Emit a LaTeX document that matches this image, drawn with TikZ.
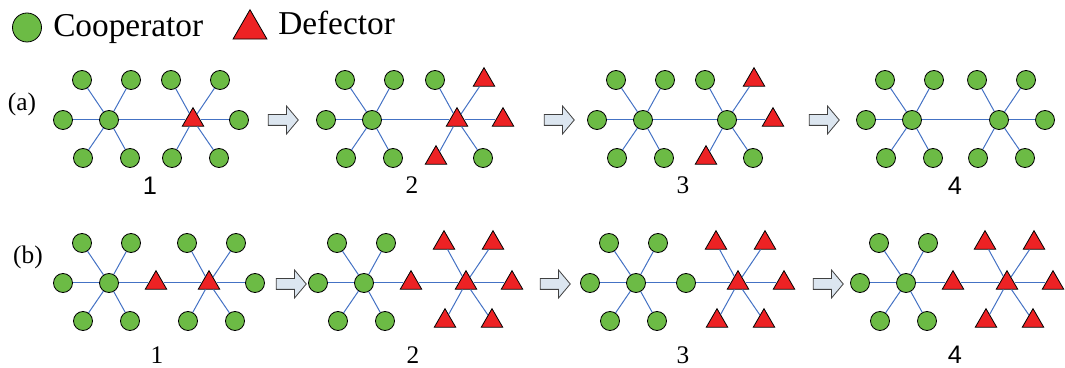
\documentclass[tikz,border=0pt]{standalone}
\usepackage{fontspec}
\setmainfont{Liberation Serif}
\setsansfont{Liberation Sans}
\usetikzlibrary{shapes.geometric,shapes.arrows}

\definecolor{coopgreen}{RGB}{108,187,69}
\definecolor{defred}{RGB}{237,34,36}
\definecolor{linkblue}{RGB}{68,114,196}
\definecolor{flowfill}{RGB}{220,230,240}

\tikzset{
  coop/.style={circle, draw=black, fill=coopgreen, line width=0.6pt, minimum size=14.25pt, inner sep=0pt},
  defe/.style={regular polygon, regular polygon sides=3, draw=black, fill=defred, line width=0.6pt, minimum size=18.5pt, inner sep=0pt},
  link/.style={linkblue, line width=0.75pt},
  flow/.style={single arrow, draw=black!75, fill=flowfill, line width=0.6pt, minimum height=22.5pt,
    inner sep=3.75pt, single arrow head extend=6.4pt, single arrow tip angle=100},
  stagelbl/.style={font=\fontsize{19}{22}\selectfont, inner sep=0pt},
  keytext/.style={font=\fontsize{25}{30}\selectfont, inner sep=0pt, anchor=base west}
}

% one hub with its five leaves: name, x, y, hub style, side (-1 left, 1 right), leaf styles
% leaf order: top-outer, top-inner, outer, bottom-outer, bottom-inner
\newcommand{\hubstar}[6]{%
  \node[#4] (#1) at (#2,#3) {};
  \edef\leaflist{#6}%
  \foreach \t [count=\k] in \leaflist {
    \pgfmathsetmacro\ox{{27,-22,46,26,-21}[\k-1]}
    \pgfmathsetmacro\oy{{40,40,0,-38,-38}[\k-1]}
    \node[\t] (#1-\k) at (#2+#5*\ox,#3+\oy) {};
    \draw[link] (#1) -- (#1-\k);
  }
}

\begin{document}
\begin{tikzpicture}[x=0.75pt, y=0.75pt]
  \useasboundingbox (0,0) rectangle (1065,368);

  % Legend
  \node[coop, minimum size=21.75pt] (kc) at (27,340.5) {};
  \node[keytext] (kct) at (53,331) {Cooperator};
  \node[defe, minimum size=29.4pt] (kd) at (250,338.7) {};
  \node[keytext] (kdt) at (278,333) {Defector};

  % Row (a): two hubs joined directly
  \node[stagelbl] (alab) at (22,264) {(a)};
  \foreach \p/\xl/\xr/\rhub/\rl in {
      1/109/193/defe/{coop,coop,coop,coop,coop},
      2/372/457/defe/{defe,coop,defe,coop,defe},
      3/643/727/coop/{defe,coop,defe,coop,defe},
      4/912/999/coop/{coop,coop,coop,coop,coop}} {
    \hubstar{a\p L}{\xl}{248}{coop}{-1}{coop,coop,coop,coop,coop}
    \hubstar{a\p R}{\xr}{248}{\rhub}{1}{\rl}
    \draw[link] (a\p L) -- (a\p R);
  }
  \foreach \x [count=\i] in {281,557,822}
    \node[flow] (fa\i) at (\x,248) {};
  \foreach \x/\s [count=\i] in {150/\sffamily 1,412/2,683/3,955/\sffamily 4}
    \node[stagelbl] (an\i) at (\x,182.5) {\s};

  % Row (b): two hubs joined through a middle node
  \node[stagelbl] (blab) at (28,111) {(b)};
  \foreach \p/\xl/\xm/\xr/\mid/\rl in {
      1/109/156/209/defe/{coop,coop,coop,coop,coop},
      2/364/411/466/defe/{defe,defe,defe,defe,defe},
      3/636/686/738/coop/{defe,defe,defe,defe,defe},
      4/906/953/1007/defe/{defe,defe,defe,defe,defe}} {
    \hubstar{b\p L}{\xl}{85}{coop}{-1}{coop,coop,coop,coop,coop}
    \hubstar{b\p R}{\xr}{85}{defe}{1}{\rl}
    \node[\mid] (b\p M) at (\xm,85) {};
    \draw[link] (b\p L) -- (b\p M) -- (b\p R);
  }
  \foreach \x [count=\i] in {289,553,826}
    \node[flow] (fb\i) at (\x,84) {};
  \foreach \x/\s [count=\i] in {157/1,413/2,683/3,955/\sffamily 4}
    \node[stagelbl] (bn\i) at (\x,13) {\s};
\end{tikzpicture}
\end{document}
